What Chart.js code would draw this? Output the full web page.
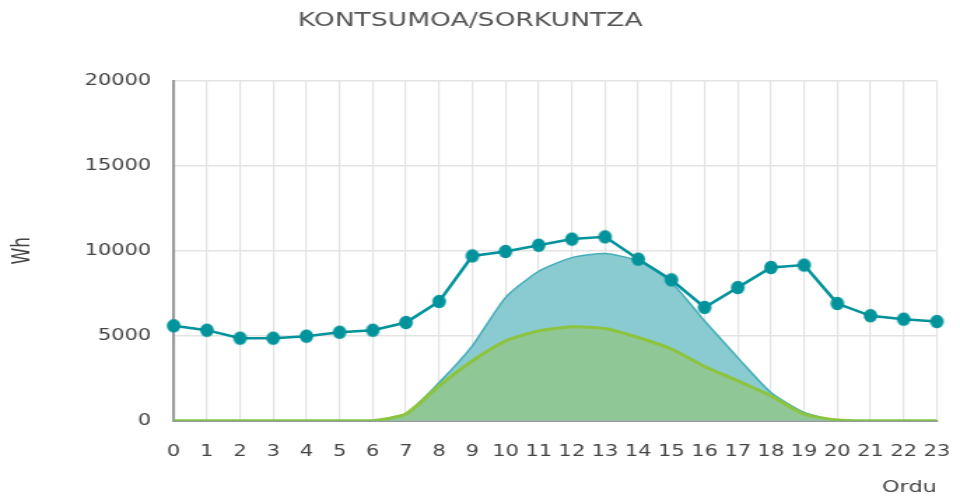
<!DOCTYPE html>
<html>
<head>
<meta charset="utf-8">
<script src="https://cdn.jsdelivr.net/npm/chart.js@4"></script>
<style>
  html, body { margin: 0; padding: 0; background: #fff; overflow: hidden; }
  #wrap { width: 686px; height: 497px; transform: scaleX(1.3994); transform-origin: 0 0; }
</style>
</head>
<body>
<div id="wrap"><canvas id="chart" width="686" height="497"></canvas></div>
<script>
// hours of the day
const hours = ["0","1","2","3","4","5","6","7","8","9","10","11","12","13","14","15","16","17","18","19","20","21","22","23"];

// consumption (Wh)
const kontsumoa = [5590, 5330, 4860, 4860, 4980, 5210, 5330, 5780, 7020, 9700, 9960, 10330,
                   10690, 10820, 9510, 8290, 6670, 7840, 9020, 9160, 6900, 6180, 5980, 5840];

// generation, blue area (Wh)
const sorkuntza = [0, 0, 0, 0, 0, 0, 0, 430, 2250, 4410, 7250, 8800,
                   9600, 9840, 9410, 8140, 5880, 3720, 1660, 490, 0, 0, 0, 0];

// generation used, green area (Wh)
const autokontsumoa = [0, 0, 0, 0, 0, 0, 0, 400, 2060, 3530, 4700, 5290,
                       5530, 5430, 4900, 4220, 3200, 2350, 1470, 390, 50, 0, 0, 0];

const yTicks = [0, 5000, 10000, 15000, 20000];

const FONT = "'DejaVu Sans', sans-serif";
const SX = 1.3994;

// round marker that stays round after the horizontal stretch
function makeDot(r, color) {
  const c = document.createElement("canvas");
  c.width = Math.ceil(2 * r / SX) + 2;
  c.height = 2 * r + 2;
  const g = c.getContext("2d");
  g.fillStyle = color;
  g.beginPath();
  g.ellipse(c.width / 2, c.height / 2, r / SX, r, 0, 0, Math.PI * 2);
  g.fill();
  return c;
}

const teal = "#00939b";
const dot = makeDot(6.8, teal);

const ctx = document.getElementById("chart").getContext("2d");
new Chart(ctx, {
  type: "line",
  data: {
    labels: hours,
    datasets: [
      {
        label: "Kontsumoa",
        data: kontsumoa,
        borderColor: teal,
        backgroundColor: teal,
        borderWidth: 2.5,
        pointStyle: dot,
        pointRadius: 6,
        tension: 0,
        fill: false,
        order: 0
      },
      {
        label: "Autokontsumoa",
        data: autokontsumoa,
        borderColor: "#8cc43f",
        backgroundColor: "#8fc797",
        borderWidth: 3,
        pointRadius: 0,
        tension: 0.2,
        fill: "origin",
        order: 1
      },
      {
        label: "Sorkuntza",
        data: sorkuntza,
        borderColor: "#45aeb8",
        backgroundColor: "#89cbd1",
        borderWidth: 1.5,
        pointRadius: 0,
        tension: 0.2,
        fill: "origin",
        order: 2
      }
    ]
  },
  options: {
    responsive: false,
    animation: false,
    devicePixelRatio: 1,
    layout: { padding: { left: 0, right: 14, top: 0, bottom: 0 } },
    plugins: {
      legend: { display: false },
      tooltip: { enabled: false },
      title: {
        display: true,
        text: "KONTSUMOA/SORKUNTZA",
        color: "#555",
        font: { family: FONT, size: 19, weight: "normal" },
        padding: { top: 10, bottom: 48 }
      }
    },
    scales: {
      x: {
        grid: { color: "#e3e3e3", lineWidth: 1.2, drawTicks: true, tickLength: 15, tickColor: "rgba(0,0,0,0)" },
        border: { color: "#9a9a9a", width: 2 },
        ticks: {
          color: "#444",
          font: { family: FONT, size: 15 },
          padding: 7,
          maxRotation: 0,
          autoSkip: false
        },
        title: {
          display: true,
          text: "Ordu",
          align: "end",
          color: "#444",
          font: { family: FONT, size: 16 },
          padding: { top: 10, bottom: 0 }
        }
      },
      y: {
        min: 0,
        max: 20000,
        afterBuildTicks: (axis) => { axis.ticks = yTicks.map(v => ({ value: v })); },
        grid: { color: "#e3e3e3", lineWidth: 1.6, drawTicks: false },
        border: { color: "#9a9a9a", width: 2 },
        ticks: {
          color: "#444",
          font: { family: FONT, size: 15 },
          padding: 16,
          callback: (v) => String(v)
        },
        title: {
          display: true,
          text: "Wh",
          color: "#444",
          font: { family: FONT, size: 17 },
          padding: { top: 6, bottom: 18 }
        }
      }
    }
  }
});
</script>
</body>
</html>
